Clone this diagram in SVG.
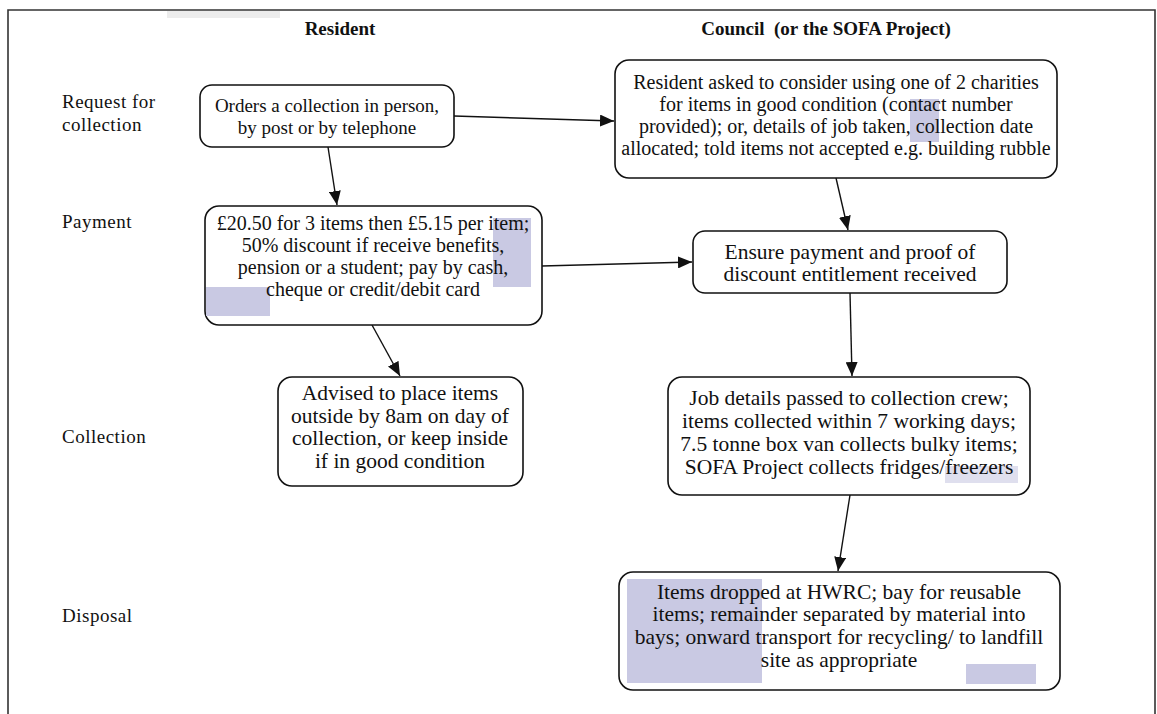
<svg xmlns="http://www.w3.org/2000/svg" width="1157" height="714" viewBox="0 0 1157 714" font-family="'Liberation Serif', 'Times New Roman', 'DejaVu Serif', serif">
<style>
text{font-family:'Liberation Serif','Times New Roman','DejaVu Serif',serif;fill:#111;}
.t{font-size:19px;text-anchor:middle;}
.m{font-size:20px;}
.l{font-size:21.5px;}
.lab{font-size:19px;letter-spacing:0.5px;}
.hdr{font-size:19px;font-weight:bold;text-anchor:middle;}
.box{fill:#fff;stroke:#111;stroke-width:1.6;}
.hl{fill:#c9c9e3;}
.con{stroke:#111;stroke-width:1.4;fill:none;marker-end:url(#ah);}
</style>
<defs>
<marker id="ah" markerUnits="userSpaceOnUse" markerWidth="14" markerHeight="12" refX="14" refY="6" orient="auto">
<path d="M0,0 L14,6 L0,12 z" fill="#111"/>
</marker>
</defs>
<rect width="1157" height="714" fill="#fff"/>
<g id="frame" stroke="#333" stroke-width="1.6" fill="none">
<path d="M8,714 V10 H1155 V714"/>
</g>
<rect x="167" y="11" width="113" height="7" fill="#ececec"/>
<g id="headers">
<text class="hdr" x="340" y="35">Resident</text>
<text class="hdr" x="826" y="35">Council&#160; (or the SOFA Project)</text>
</g>
<g id="stages">
<text class="lab" x="62" y="108">Request for</text>
<text class="lab" x="62" y="131">collection</text>
<text class="lab" x="62" y="228">Payment</text>
<text class="lab" x="62" y="443">Collection</text>
<text class="lab" x="62" y="622">Disposal</text>
</g>
<g id="connectors">
<line class="con" x1="328" y1="147" x2="337" y2="205"/>
<line class="con" x1="454" y1="116" x2="614" y2="121"/>
<line class="con" x1="836" y1="178" x2="848" y2="230"/>
<line class="con" x1="542" y1="266" x2="692" y2="262"/>
<line class="con" x1="372" y1="325" x2="400" y2="376"/>
<line class="con" x1="850" y1="293" x2="852" y2="376"/>
<line class="con" x1="850" y1="495" x2="838" y2="571"/>
</g>
<g id="n-order">
<rect class="box" x="200" y="85" width="254" height="62" rx="12"/>
<text class="t" x="327" y="112">Orders a collection in person,</text>
<text class="t" x="327" y="134">by post or by telephone</text>
</g>
<g id="n-charities">
<rect class="box" x="615" y="60" width="442" height="118" rx="14"/>
<rect class="hl" x="910" y="99" width="29" height="43"/>
<text class="t m" x="836" y="89">Resident asked to consider using one of 2 charities</text>
<text class="t m" x="836" y="111">for items in good condition (contact number</text>
<text class="t m" x="836" y="133">provided); or, details of job taken, collection date</text>
<text class="t m" x="836" y="155">allocated; told items not accepted e.g. building rubble</text>
</g>
<g id="n-payment">
<rect class="box" x="205" y="206" width="337" height="119" rx="14"/>
<rect class="hl" x="493" y="218" width="38" height="69"/>
<rect class="hl" x="206" y="287" width="64" height="29"/>
<text class="t m" x="373" y="230">£20.50 for 3 items then £5.15 per item;</text>
<text class="t m" x="373" y="252">50% discount if receive benefits,</text>
<text class="t m" x="373" y="274">pension or a student; pay by cash,</text>
<text class="t m" x="373" y="296">cheque or credit/debit card</text>
</g>
<g id="n-ensure">
<rect class="box" x="693" y="231" width="314" height="62" rx="12"/>
<text class="t l" x="850" y="259">Ensure payment and proof of</text>
<text class="t l" x="850" y="281">discount entitlement received</text>
</g>
<g id="n-advised">
<rect class="box" x="278" y="377" width="245" height="109" rx="14"/>
<text class="t l" x="400" y="400">Advised to place items</text>
<text class="t l" x="400" y="423">outside by 8am on day of</text>
<text class="t l" x="400" y="445">collection, or keep inside</text>
<text class="t l" x="400" y="468">if in good condition</text>
</g>
<g id="n-job">
<rect class="box" x="668" y="377" width="362" height="118" rx="14"/>
<rect class="hl" x="945" y="466" width="73" height="17" opacity="0.6"/>
<text class="t l" x="849" y="405">Job details passed to collection crew;</text>
<text class="t l" x="849" y="428">items collected within 7 working days;</text>
<text class="t l" x="849" y="451">7.5 tonne box van collects bulky items;</text>
<text class="t l" x="849" y="474">SOFA Project collects fridges/freezers</text>
</g>
<g id="n-disposal">
<rect class="box" x="619" y="572" width="441" height="118" rx="14"/>
<rect class="hl" x="627" y="579" width="135" height="104"/>
<rect class="hl" x="966" y="664" width="70" height="20"/>
<text class="t l" x="839" y="599">Items dropped at HWRC; bay for reusable</text>
<text class="t l" x="839" y="621">items; remainder separated by material into</text>
<text class="t l" x="839" y="644">bays; onward transport for recycling/ to landfill</text>
<text class="t l" x="839" y="667">site as appropriate</text>
</g>
</svg>
